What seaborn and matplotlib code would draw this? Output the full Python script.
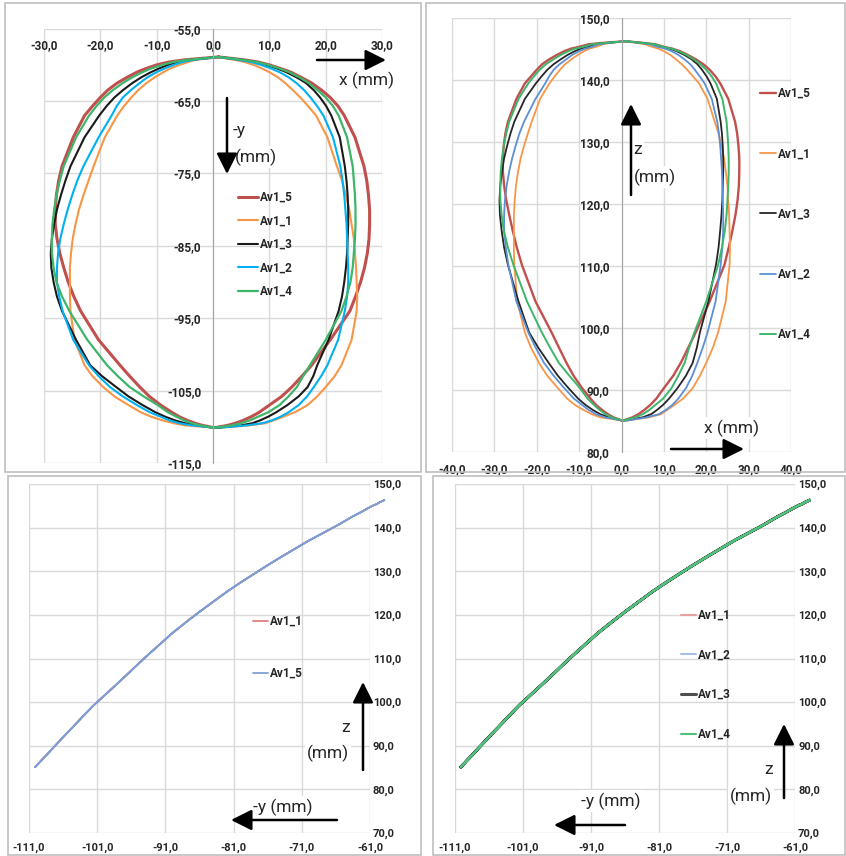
import numpy as np
import pandas as pd
import seaborn as sns
import matplotlib.pyplot as plt
from matplotlib.ticker import FuncFormatter
from matplotlib.patches import Rectangle, FancyArrowPatch

y_niv = [-58.9, -59.3, -59.6, -60.0, -60.5, -61.0, -61.7, -62.5, -63.5, -64.5, -65.7, -67.0,
         -70.0, -74.0, -76.0, -78.0, -80.0, -82.0, -84.0, -86.0, -88.0, -90.0, -92.0, -94.0,
         -98.0, -101.5, -103.0, -104.5, -105.8, -107.0, -108.0, -108.6, -109.1, -109.5, -109.8, -110.1]
z_niv = [146.3, 146.0, 145.8, 145.4, 145.1, 144.7, 144.1, 143.4, 142.6, 141.7, 140.6, 139.5,
         137.0, 133.3, 131.4, 129.4, 127.4, 125.3, 123.0, 120.7, 118.3, 115.8, 113.0, 110.2,
         104.3, 99.3, 96.9, 94.4, 92.3, 90.3, 88.6, 87.6, 86.8, 86.1, 85.6, 85.1]

# x (mm) de cada trayectoria en esos niveles: lado izquierdo y lado derecho
x_izq_5 = [1.0, -5.0, -7.8, -10.0, -11.9, -13.5, -15.2, -17.0, -18.7, -20.0, -21.4, -22.8,
           -24.8, -26.8, -27.4, -27.8, -28.0, -28.0, -27.7, -27.2, -26.5, -25.7, -24.7, -23.5,
           -20.3, -16.5, -14.8, -13.0, -11.3, -9.3, -7.3, -6.0, -4.6, -3.2, -1.9, 0.0]
x_der_5 = [1.0, 5.5, 8.0, 10.0, 12.0, 13.8, 15.6, 17.5, 19.3, 20.8, 22.2, 23.3,
           25.2, 26.8, 27.3, 27.6, 27.8, 27.8, 27.7, 27.4, 26.9, 26.2, 25.3, 24.3,
           20.8, 17.5, 15.8, 14.0, 12.2, 10.0, 8.2, 6.8, 5.4, 4.0, 2.6, 0.5]
x_izq_1 = [1.0, -3.0, -4.4, -6.0, -7.6, -8.8, -10.3, -11.8, -13.3, -14.5, -15.8, -17.0,
           -19.2, -21.2, -22.1, -23.0, -23.8, -24.4, -24.9, -25.2, -25.4, -25.4, -25.4, -25.3,
           -24.6, -22.8, -21.4, -19.5, -17.5, -15.0, -12.8, -11.0, -9.0, -7.0, -5.0, 0.0]
x_der_1 = [1.0, 3.8, 5.6, 7.2, 8.7, 10.0, 11.5, 12.8, 14.2, 15.5, 16.9, 18.3,
           20.3, 22.0, 22.9, 23.6, 24.2, 24.6, 25.0, 25.2, 25.4, 25.5, 25.6, 25.5,
           24.6, 22.8, 21.6, 20.0, 18.5, 16.8, 14.5, 12.5, 10.8, 9.3, 6.5, 1.5]
x_izq_3 = [1.0, -4.0, -6.3, -8.0, -9.6, -11.0, -12.7, -14.3, -16.0, -17.5, -18.9, -20.2,
           -22.8, -25.3, -26.2, -27.0, -27.7, -28.2, -28.6, -28.8, -28.7, -28.3, -27.7, -26.8,
           -24.3, -21.8, -19.7, -17.2, -15.0, -12.5, -10.2, -8.5, -6.8, -5.0, -3.0, 0.0]
x_der_3 = [1.0, 5.0, 7.5, 9.5, 11.4, 13.0, 14.8, 16.5, 17.9, 19.0, 20.1, 21.0,
           22.5, 23.4, 23.7, 23.9, 24.0, 24.0, 23.9, 23.8, 23.6, 23.3, 22.9, 22.3,
           20.5, 18.5, 17.8, 16.8, 15.2, 13.2, 11.2, 9.8, 8.4, 7.0, 5.0, 1.0]
x_izq_2 = [1.0, -3.5, -5.4, -7.0, -8.6, -10.0, -11.6, -13.0, -14.6, -16.0, -17.1, -18.0,
           -20.3, -23.0, -24.1, -25.0, -25.8, -26.5, -27.1, -27.5, -27.7, -27.7, -27.3, -26.7,
           -24.8, -22.0, -20.3, -18.3, -16.0, -13.5, -11.2, -9.3, -7.8, -6.0, -3.8, 0.0]
x_der_2 = [1.0, 4.5, 6.7, 8.5, 10.3, 11.8, 13.4, 14.8, 16.2, 17.3, 18.5, 19.6,
           21.3, 22.6, 23.0, 23.3, 23.5, 23.7, 23.8, 23.9, 24.0, 24.0, 23.8, 23.4,
           22.2, 20.3, 19.2, 17.9, 16.7, 15.2, 13.4, 12.0, 10.5, 8.8, 6.0, 1.5]
x_izq_4 = [1.0, -4.5, -7.0, -9.0, -11.0, -12.5, -14.3, -16.0, -17.8, -19.3, -20.7, -22.0,
           -24.3, -26.5, -27.2, -27.8, -28.2, -28.5, -28.6, -28.6, -28.3, -27.8, -26.8, -25.5,
           -22.3, -18.8, -16.9, -14.8, -12.3, -9.8, -8.0, -6.5, -5.2, -3.8, -2.3, 0.0]
x_der_4 = [1.0, 5.3, 7.8, 9.8, 11.8, 13.5, 15.3, 17.0, 18.6, 20.0, 21.3, 22.3,
           23.8, 24.8, 25.0, 25.2, 25.3, 25.3, 25.2, 25.0, 24.8, 24.4, 23.7, 22.8,
           20.0, 17.2, 16.0, 14.9, 13.4, 11.8, 9.8, 8.0, 6.6, 5.0, 3.3, 0.5]

ticks_x_xy = [-30, -20, -10, 0, 10, 20, 30]
ticks_y_xy = [-55, -65, -75, -85, -95, -105, -115]
ticks_x_xz = [-40, -30, -20, -10, 0, 10, 20, 30, 40]
ticks_z = [80, 90, 100, 110, 120, 130, 140, 150]
ticks_y_yz = [-111, -101, -91, -81, -71, -61]
ticks_z_yz = [70, 80, 90, 100, 110, 120, 130, 140, 150]


def trayectoria(x_izq, x_der):
    # baja por el lado izquierdo y vuelve por el derecho
    return pd.DataFrame({'x': x_izq + x_der[::-1],
                         'y': y_niv + y_niv[::-1],
                         'z': z_niv + z_niv[::-1]})


tray = {'Av1_5': trayectoria(x_izq_5, x_der_5),
        'Av1_1': trayectoria(x_izq_1, x_der_1),
        'Av1_3': trayectoria(x_izq_3, x_der_3),
        'Av1_2': trayectoria(x_izq_2, x_der_2),
        'Av1_4': trayectoria(x_izq_4, x_der_4)}

sns.set_style('white')
plt.rcParams['font.family'] = ['Roboto', 'DejaVu Sans']
plt.rcParams['font.weight'] = 'bold'

W, H = 846, 856
fig = plt.figure(figsize=(W / 100, H / 100), dpi=100)


def caja(x0, y0, x1, y1):
    return [x0 / W, 1 - y1 / H, (x1 - x0) / W, (y1 - y0) / H]


def fx(px, py):
    return (px / W, 1 - py / H)


# marcos de cada gráfico
for x0, y0, x1, y1 in [(5, 3, 421, 472), (426, 3, 845, 472), (8, 476, 421, 855), (433, 476, 845, 855)]:
    fig.add_artist(Rectangle(fx(x0, y1), (x1 - x0) / W, (y1 - y0) / H, transform=fig.transFigure,
                             fill=False, ec='#BFBFBF', lw=1.2))

ax_tl = fig.add_axes(caja(44, 28.7, 382, 463))
ax_tr = fig.add_axes(caja(452, 18.3, 791, 452))
ax_bl = fig.add_axes(caja(29, 484, 370, 833))
ax_br = fig.add_axes(caja(454.7, 484, 795.3, 833))

coma = FuncFormatter(lambda v, p: f"{v:.1f}".replace('.', ','))


def dibuja(ax, nombres, colores, anchos, cx, cy, clip=True):
    for n in nombres:
        sns.lineplot(data=tray[n], x=cx, y=cy, sort=False, estimator=None, color=colores[n],
                     lw=anchos[n], label=n, ax=ax, clip_on=clip)


def estilo(ax, xlim, ylim, xt, yt):
    ax.set_xlim(xlim)
    ax.set_ylim(ylim)
    ax.set_xticks(xt)
    ax.set_yticks(yt)
    ax.xaxis.set_major_formatter(coma)
    ax.yaxis.set_major_formatter(coma)
    ax.grid(True, color='#D9D9D9', lw=1)
    for s in ax.spines.values():
        s.set_visible(False)
    ax.tick_params(length=0, labelsize=8.5, labelcolor='#262626')
    ax.set_xlabel('')
    ax.set_ylabel('')


def leyenda(ax, px, py, hl, ls):
    ax.legend(loc='upper left', bbox_to_anchor=fx(px, py), bbox_transform=fig.transFigure,
              frameon=False, borderpad=0, borderaxespad=0, handlelength=hl, handletextpad=0.15,
              labelspacing=ls, prop={'weight': 'bold', 'size': 8.5})


orden = ['Av1_5', 'Av1_1', 'Av1_3', 'Av1_2', 'Av1_4']

# vista x / -y
col_tl = {'Av1_5': '#C0504D', 'Av1_1': '#F79646', 'Av1_3': '#1A1A1A', 'Av1_2': '#00B0F0', 'Av1_4': '#3DB56A'}
lw_tl = {'Av1_5': 2.2, 'Av1_1': 1.5, 'Av1_3': 1.5, 'Av1_2': 1.5, 'Av1_4': 1.6}
dibuja(ax_tl, orden, col_tl, lw_tl, 'x', 'y')
estilo(ax_tl, (-30, 30), (-115, -55), ticks_x_xy, ticks_y_xy)
ax_tl.spines['left'].set_visible(True)
ax_tl.spines['left'].set_position(('data', 0))
ax_tl.spines['left'].set_color('#A6A6A6')
ax_tl.tick_params(axis='x', labeltop=True, labelbottom=False, pad=-16.5)
ax_tl.tick_params(axis='y', pad=8.5)
leyenda(ax_tl, 238, 191, 1.7, 0.89)

# vista x / z
col_tr = {'Av1_5': '#C0504D', 'Av1_1': '#F79646', 'Av1_3': '#262626', 'Av1_2': '#5B8FD6', 'Av1_4': '#3DB56A'}
lw_tr = {'Av1_5': 1.7, 'Av1_1': 1.3, 'Av1_3': 1.3, 'Av1_2': 1.3, 'Av1_4': 1.4}
dibuja(ax_tr, orden, col_tr, lw_tr, 'x', 'z')
estilo(ax_tr, (-40, 40), (80, 150), ticks_x_xz, ticks_z)
ax_tr.spines['left'].set_visible(True)
ax_tr.spines['left'].set_position(('data', 0))
ax_tr.spines['left'].set_color('#A6A6A6')
ax_tr.tick_params(axis='x', pad=8)
ax_tr.tick_params(axis='y', pad=8.5)
leyenda(ax_tr, 760, 87, 1.35, 4.0)

# vistas -y / z
col_bl = {'Av1_1': '#E08080', 'Av1_5': '#7F9FD4'}
lw_bl = {'Av1_1': 1.3, 'Av1_5': 1.3}
dibuja(ax_bl, ['Av1_1', 'Av1_5'], col_bl, lw_bl, 'y', 'z', clip=False)
estilo(ax_bl, (-111, -61), (70, 150), ticks_y_yz, ticks_z_yz)
ax_bl.yaxis.tick_right()
ax_bl.tick_params(axis='y', pad=2, labelsize=8)
ax_bl.tick_params(axis='x', pad=7, labelsize=8)
leyenda(ax_bl, 253, 615, 1.3, 3.3)

col_br = {'Av1_1': '#E8A0A0', 'Av1_2': '#A8C0E8', 'Av1_3': '#4D4D4D', 'Av1_4': '#4CC27A'}
lw_br = {'Av1_1': 1.5, 'Av1_2': 1.5, 'Av1_3': 2.2, 'Av1_4': 1.5}
dibuja(ax_br, ['Av1_1', 'Av1_2', 'Av1_3', 'Av1_4'], col_br, lw_br, 'y', 'z', clip=False)
estilo(ax_br, (-111, -61), (70, 150), ticks_y_yz, ticks_z_yz)
ax_br.yaxis.tick_right()
ax_br.tick_params(axis='y', pad=2, labelsize=8)
ax_br.tick_params(axis='x', pad=7, labelsize=8)
leyenda(ax_br, 681, 609, 1.3, 2.25)

# nombres de ejes y flechas
fondo = dict(fc='white', ec='none', pad=1.5)
textos = [(366, 80, 'x (mm)', 'center'), (233, 131, '-y', 'left'), (235, 157, '(mm)', 'left'),
          (633, 150, 'z', 'left'), (634, 177, '(mm)', 'left'), (731, 428, 'x (mm)', 'center'),
          (345, 727, 'z', 'center'), (328, 753, '(mm)', 'center'), (283, 807, '-y (mm)', 'center'),
          (768, 770, 'z', 'center'), (751, 796, '(mm)', 'center'), (611, 801, '-y (mm)', 'center')]
for px, py, t, ha in textos:
    fig.text(*fx(px, py), t, ha=ha, va='center', fontsize=12.5, fontweight='normal',
             color='#262626', bbox=fondo, zorder=4)

flechas = [((317, 60), (386, 60)), ((227, 98), (227, 174)),
           ((631, 195), (631, 104)), ((671, 449), (744, 449)),
           ((363, 770), (363, 682)), ((337, 820), (231, 820)),
           ((784, 798), (784, 724)), ((625, 825), (554, 825))]
for a, b in flechas:
    fig.add_artist(FancyArrowPatch(fx(*a), fx(*b), transform=fig.transFigure,
                                   arrowstyle='-|>,head_length=0.7,head_width=0.35', mutation_scale=18,
                                   lw=1.8, color='black', shrinkA=0, shrinkB=0, zorder=5))

fig.savefig('out.png', dpi=100)
